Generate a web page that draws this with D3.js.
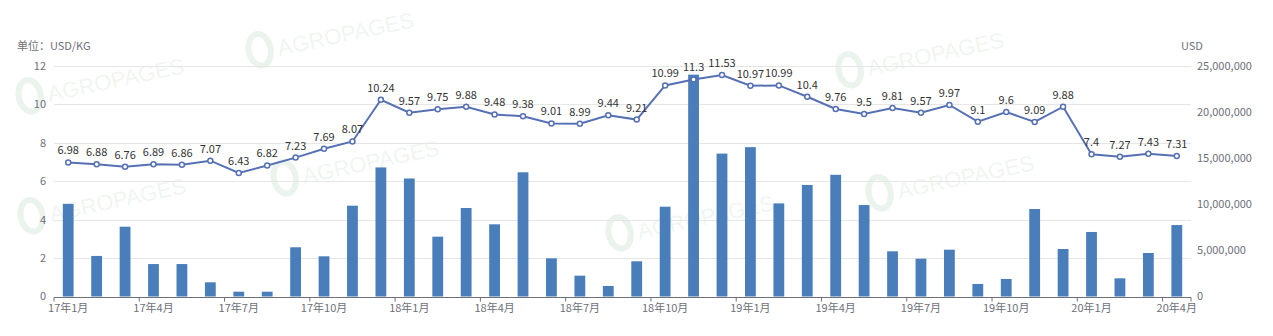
<!DOCTYPE html>
<html>
<head>
<meta charset="utf-8">
<script src="https://cdn.jsdelivr.net/npm/d3@7"></script>
<style>
  html, body { margin: 0; padding: 0; background: #fff; }
  svg { display: block; font-family: "Microsoft YaHei", "Noto Sans CJK SC", "Noto Sans", sans-serif; }
</style>
</head>
<body>
<svg id="chart" width="1273" height="336"></svg>
<script>
// Monthly categories, Jan 2017 – Apr 2020
const months = [
  "17年1月","17年2月","17年3月","17年4月","17年5月","17年6月","17年7月","17年8月","17年9月","17年10月","17年11月","17年12月",
  "18年1月","18年2月","18年3月","18年4月","18年5月","18年6月","18年7月","18年8月","18年9月","18年10月","18年11月","18年12月",
  "19年1月","19年2月","19年3月","19年4月","19年5月","19年6月","19年7月","19年8月","19年9月","19年10月","19年11月","19年12月",
  "20年1月","20年2月","20年3月","20年4月"
];
// Unit price, USD/KG (line, left axis)
const price = [
  6.98, 6.88, 6.76, 6.89, 6.86, 7.07, 6.43, 6.82, 7.23, 7.69, 8.07, 10.24,
  9.57, 9.75, 9.88, 9.48, 9.38, 9.01, 8.99, 9.44, 9.21, 10.99, 11.3, 11.53,
  10.97, 10.99, 10.4, 9.76, 9.5, 9.81, 9.57, 9.97, 9.1, 9.6, 9.09, 9.88,
  7.4, 7.27, 7.43, 7.31
];
// Trade value, USD (bars, right axis)
const amount = [
  10050000, 4400000, 7570000, 3520000, 3520000, 1540000, 520000, 520000, 5340000, 4360000, 9850000, 14000000,
  12800000, 6490000, 9600000, 7830000, 13470000, 4140000, 2260000, 1140000, 3820000, 9740000, 24060000, 15500000,
  16200000, 10100000, 12100000, 13200000, 9920000, 4900000, 4100000, 5080000, 1360000, 1900000, 9490000, 5150000,
  7000000, 1970000, 4720000, 7750000
];
const leftTicks = [0, 2, 4, 6, 8, 10, 12];
const rightTicks = [0, 5000000, 10000000, 15000000, 20000000, 25000000];

const svg = d3.select("#chart");
const margin = { left: 54, right: 1191, top: 66, bottom: 296.5 };

const x = d3.scaleBand().domain(months).range([margin.left, margin.right]).padding(0);
const yL = d3.scaleLinear().domain([0, 12]).range([margin.bottom, margin.top]);
const yR = d3.scaleLinear().domain([0, 25000000]).range([margin.bottom, margin.top]);

// Faint watermarks across the plot
const marks = [
  [250, 62], [20, 108], [275, 190], [22, 228], [610, 245],
  [840, 82], [870, 205]
];
const wm = svg.append("g").attr("class", "watermarks");
marks.forEach(([mx, my]) => {
  const g = wm.append("g").attr("transform", `translate(${mx},${my}) rotate(-12)`).attr("opacity", 0.09);
  g.append("ellipse").attr("cx", 12).attr("cy", -10).attr("rx", 11).attr("ry", 16)
    .attr("fill", "none").attr("stroke", "#2f8f3a").attr("stroke-width", 6);
  g.append("text").attr("x", 30).attr("y", 0).attr("font-size", 22).attr("fill", "#6a9a6a")
    .attr("font-family", "Arial, Liberation Sans, sans-serif").text("AGROPAGES");
});

// Horizontal gridlines
svg.append("g").selectAll("line").data(leftTicks.slice(1)).join("line")
  .attr("x1", margin.left).attr("x2", margin.right)
  .attr("y1", d => Math.round(yL(d)) + 0.5).attr("y2", d => Math.round(yL(d)) + 0.5)
  .attr("stroke", "#e6e6e6").attr("stroke-width", 1);

// Left axis labels
svg.append("g").selectAll("text").data(leftTicks).join("text")
  .attr("x", 46).attr("y", d => yL(d)).attr("dy", "0.35em")
  .attr("text-anchor", "end").attr("font-size", 11).attr("fill", "#6e7079")
  .text(d => d);

// Right axis labels
const fmt = d3.format(",");
svg.append("g").selectAll("text").data(rightTicks).join("text")
  .attr("x", 1197).attr("y", d => yR(d)).attr("dy", "0.35em")
  .attr("text-anchor", "start").attr("font-size", 11).attr("fill", "#6e7079")
  .text(d => fmt(d));

// Axis titles
svg.append("text").attr("x", 17).attr("y", 50).attr("font-size", 11).attr("fill", "#6e7079").text("单位：USD/KG");
svg.append("text").attr("x", 1181).attr("y", 50).attr("font-size", 11).attr("fill", "#6e7079").text("USD");

// Bars
const barW = x.bandwidth() * 0.38;
svg.append("g").selectAll("rect").data(amount).join("rect")
  .attr("x", (d, i) => x(months[i]) + (x.bandwidth() - barW) / 2)
  .attr("width", barW)
  .attr("y", d => yR(d))
  .attr("height", d => yR(0) - yR(d))
  .attr("fill", "#4a7ebb");

// Category axis
const axisY = Math.round(margin.bottom) + 0.5;
svg.append("line").attr("x1", margin.left).attr("x2", margin.right)
  .attr("y1", axisY).attr("y2", axisY).attr("stroke", "#6e7079");
const tickIdx = d3.range(0, months.length, 3);
svg.append("g").selectAll("line").data(tickIdx.concat([months.length])).join("line")
  .attr("x1", i => i < months.length ? x(months[i]) : margin.right)
  .attr("x2", i => i < months.length ? x(months[i]) : margin.right)
  .attr("y1", axisY).attr("y2", axisY + 4).attr("stroke", "#6e7079");
svg.append("g").selectAll("text").data(tickIdx).join("text")
  .attr("x", i => x(months[i]) + x.bandwidth() / 2).attr("y", 312)
  .attr("text-anchor", "middle").attr("font-size", 11).attr("fill", "#6e7079")
  .text(i => months[i]);

// Price line
const cx = (d, i) => x(months[i]) + x.bandwidth() / 2;
const line = d3.line().x(cx).y(d => yL(d));
svg.append("path").datum(price).attr("d", line)
  .attr("fill", "none").attr("stroke", "#5670b4").attr("stroke-width", 2);
svg.append("g").selectAll("circle").data(price).join("circle")
  .attr("cx", cx).attr("cy", d => yL(d)).attr("r", 2.5)
  .attr("fill", "#fff").attr("stroke", "#5670b4").attr("stroke-width", 1.5);
svg.append("g").selectAll("text").data(price).join("text")
  .attr("x", cx).attr("y", d => yL(d) - 8)
  .attr("text-anchor", "middle").attr("font-size", 11).attr("fill", "#333")
  .text(d => d);
</script>
</body>
</html>
